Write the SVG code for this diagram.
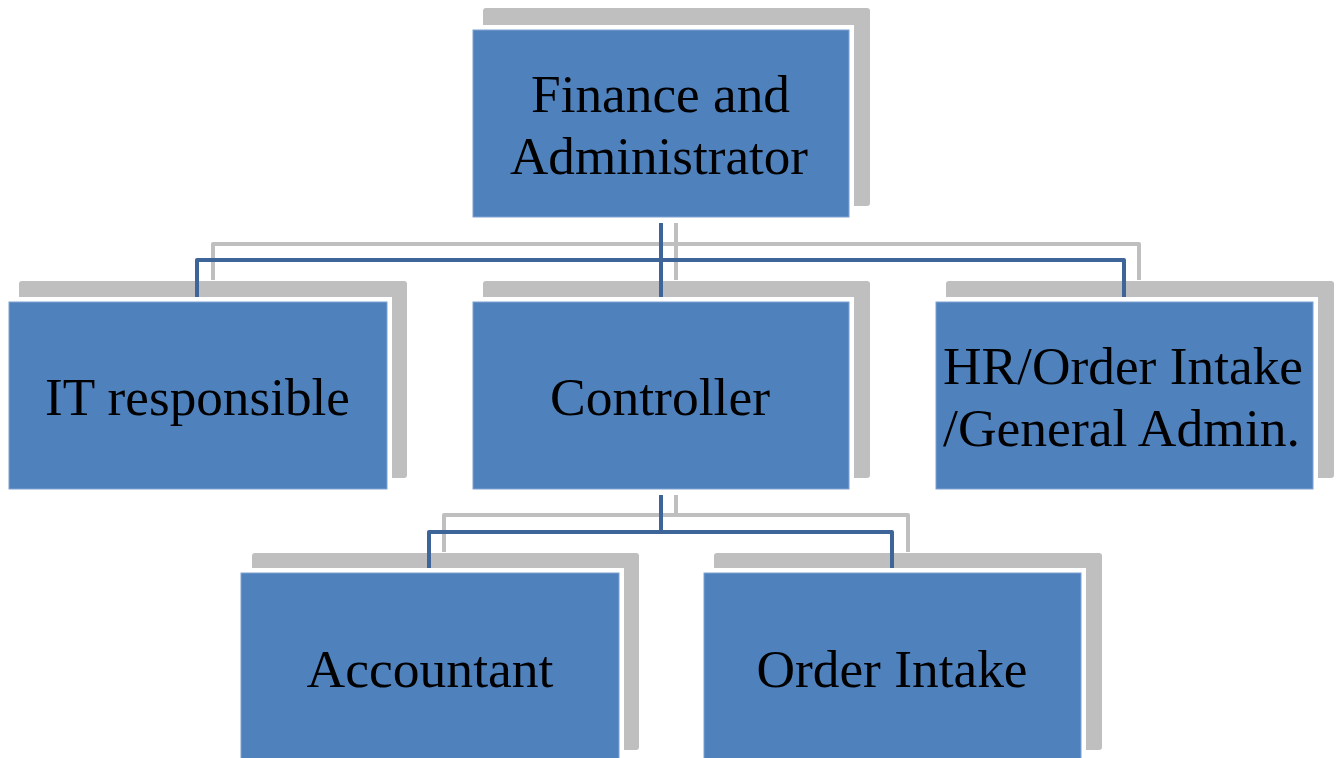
<svg xmlns="http://www.w3.org/2000/svg" width="1339" height="758" viewBox="0 0 1339 758">
<style>
.shadow{fill:#BFBFBF}
.gap{fill:#FFFFFF}
.box{fill:#4F81BD;stroke:#7FA2D0;stroke-width:1}
.lbl{font-family:"Liberation Serif","Times New Roman",serif;font-size:53px;fill:#000;text-anchor:middle}
.cb{fill:none;stroke:#3D6599;stroke-width:4;stroke-linejoin:round}
.cg{fill:none;stroke:#BFBFBF;stroke-width:4;stroke-linejoin:round}
</style>
<rect width="1339" height="758" fill="#FFFFFF"/>
<g id="node-finance">
<rect class="shadow" x="483" y="8" width="387" height="198" rx="3"/>
<rect class="gap" x="468" y="25" width="386" height="197"/>
<rect class="box" x="473" y="30" width="376" height="187"/>
<text class="lbl" x="660.5" y="112" textLength="259" lengthAdjust="spacingAndGlyphs">Finance and</text>
<text class="lbl" x="659" y="174" textLength="298" lengthAdjust="spacingAndGlyphs">Administrator</text>
</g>
<g id="node-it">
<rect class="shadow" x="19" y="281" width="388" height="197" rx="3"/>
<rect class="gap" x="4" y="297" width="388" height="197"/>
<rect class="box" x="9" y="302" width="378" height="187"/>
<text class="lbl" x="197.5" y="415" textLength="305" lengthAdjust="spacingAndGlyphs">IT responsible</text>
</g>
<g id="node-controller">
<rect class="shadow" x="483" y="281" width="387" height="197" rx="3"/>
<rect class="gap" x="468" y="297" width="386" height="197"/>
<rect class="box" x="473" y="302" width="376" height="187"/>
<text class="lbl" x="660" y="415" textLength="220" lengthAdjust="spacingAndGlyphs">Controller</text>
</g>
<g id="node-hr">
<rect class="shadow" x="946" y="281" width="388" height="197" rx="3"/>
<rect class="gap" x="931" y="297" width="387" height="197"/>
<rect class="box" x="936" y="302" width="377" height="187"/>
<text class="lbl" x="1123" y="384" textLength="360" lengthAdjust="spacingAndGlyphs">HR/Order Intake</text>
<text class="lbl" x="1121.5" y="446" textLength="357" lengthAdjust="spacingAndGlyphs">/General Admin.</text>
</g>
<g id="node-accountant">
<rect class="shadow" x="252" y="553" width="387" height="197" rx="3"/>
<rect class="gap" x="236" y="568" width="388" height="197"/>
<rect class="box" x="241" y="573" width="378" height="187"/>
<text class="lbl" x="430" y="687" textLength="247" lengthAdjust="spacingAndGlyphs">Accountant</text>
</g>
<g id="node-order-intake">
<rect class="shadow" x="714" y="553" width="388" height="197" rx="3"/>
<rect class="gap" x="699" y="568" width="387" height="197"/>
<rect class="box" x="704" y="573" width="377" height="187"/>
<text class="lbl" x="892" y="687" textLength="271" lengthAdjust="spacingAndGlyphs">Order Intake</text>
</g>
<g id="connectors">
<path class="cg" d="M676,223 V280 M213,280 V244 H1139 V280"/>
<path class="cg" d="M676,495 V515 M444,552 V515 H908 V552"/>
<path class="cb" d="M661,223 V297 M197,297 V260 H1124 V297"/>
<path class="cb" d="M661,495 V532 M429,568 V532 H892 V568"/>
</g>
</svg>
